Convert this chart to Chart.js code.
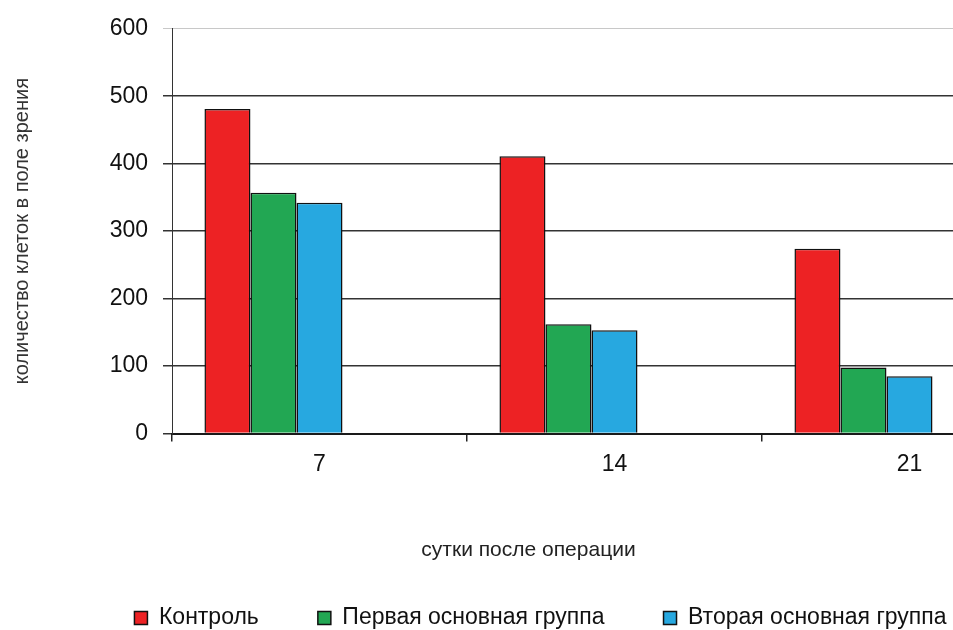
<!DOCTYPE html>
<html><head><meta charset="utf-8">
<script src="https://cdn.jsdelivr.net/npm/chart.js@4"></script>
<style>
html,body{margin:0;padding:0;overflow:hidden;background:#fff;width:953px;height:630px}
#wrap{position:absolute;left:0;top:0;width:1100px;height:642px}
</style>
</head><body>
<div id="wrap"><canvas id="c" width="1100" height="642"></canvas></div>
<script>
const categories = ['7', '14', '21'];
const seriesNames = ['Контроль', 'Первая основная группа', 'Вторая основная группа'];
const controlValues = [481, 411, 274];
const group1Values = [357, 162, 98];
const group2Values = [342, 153, 85];
const yTickValues = [0, 100, 200, 300, 400, 500, 600];
const xAxisTitle = 'сутки после операции';
const yAxisTitle = 'количество клеток в поле зрения';

const FONT = "'Liberation Sans', Arial, sans-serif";
const colors = ['#ED2224', '#22A753', '#27A8E0'];
const yMax = yTickValues[yTickValues.length - 1];

const seriesData = [controlValues, group1Values, group2Values];
const datasets = seriesData.map((d, i) => ({
  label: seriesNames[i],
  data: d,
  backgroundColor: colors[i],
  borderColor: '#111',
  borderWidth: 1.5
}));
// two empty series (as in the original spreadsheet) keep the bars left in each group
datasets.push({label: '', data: [null, null, null]});
datasets.push({label: '', data: [null, null, null]});

// nudge the legend row to the right, as in the original layout
const legendShift = {
  id: 'legendShift',
  afterLayout(chart) {
    if (chart.legend) { chart.legend.left += 12; chart.legend.right += 12; }
  }
};

new Chart(document.getElementById('c'), {
  type: 'bar',
  data: {labels: categories, datasets},
  plugins: [legendShift],
  options: {
    responsive: false,
    animation: false,
    devicePixelRatio: 1,
    datasets: {bar: {barPercentage: 1, categoryPercentage: 0.78}},
    layout: {padding: {left: 0, right: 43, top: 26, bottom: 2.5}},
    scales: {
      x: {
        grid: {display: true, drawOnChartArea: false, drawTicks: true, tickLength: 8, offset: true, color: '#222', lineWidth: 1.5},
        border: {display: true, color: '#1a1a1a', width: 2},
        ticks: {font: {family: FONT, size: 23}, color: '#111', padding: 9, maxRotation: 0},
        afterFit: s => { s.height = 43.5; }
      },
      y: {
        min: yTickValues[0],
        max: yMax,
        ticks: {stepSize: yTickValues[1] - yTickValues[0], font: {family: FONT, size: 23}, color: '#111', padding: 15},
        grid: {
          color: c => (c.tick && c.tick.value === yMax) ? '#c8c8c8' : '#333',
          lineWidth: c => (c.tick && c.tick.value === yMax) ? 1 : 1.5,
          tickLength: 9,
          drawTicks: true
        },
        border: {display: true, color: '#333', width: 1},
        title: {display: true, text: yAxisTitle, font: {family: FONT, size: 20}, color: '#333', padding: {top: 10, bottom: 0}},
        afterFit: s => { s.width = 172; }
      }
    },
    plugins: {
      title: {
        display: true,
        position: 'bottom',
        weight: 500,
        text: xAxisTitle,
        font: {family: FONT, size: 21, weight: 'normal'},
        color: '#222',
        padding: {top: 60.4, bottom: -15.1}
      },
      legend: {
        position: 'bottom',
        labels: {
          boxWidth: 13,
          boxHeight: 13,
          padding: 59,
          color: '#111',
          font: {family: FONT, size: 23},
          filter: item => item.text !== ''
        }
      },
      tooltip: {enabled: false}
    }
  }
});
</script>
</body></html>
